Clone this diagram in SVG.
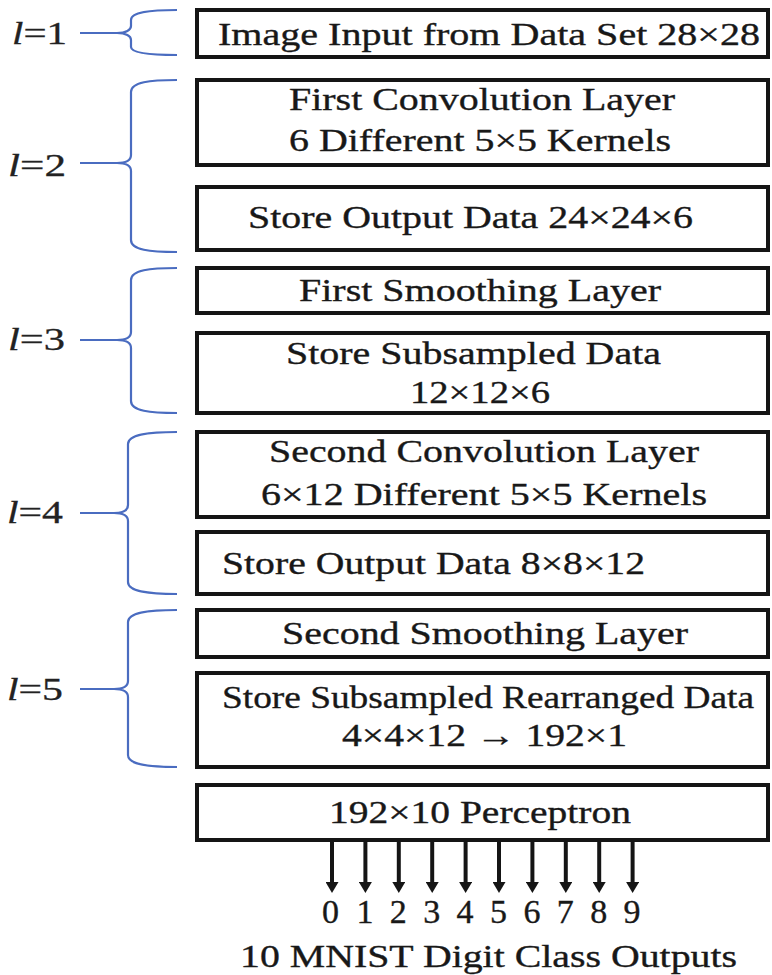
<svg xmlns="http://www.w3.org/2000/svg" width="772" height="975" viewBox="0 0 772 975">
<style>
.box{fill:#fff;stroke:#151515;stroke-width:4}
.t{font-family:"Liberation Serif","Times New Roman",serif;font-size:32px;fill:#181818;stroke:#181818;stroke-width:0.35}
.lbl{font-family:"Liberation Serif","Times New Roman",serif;font-size:31px;fill:#222;stroke:#222;stroke-width:0.3}
.brace{fill:none;stroke:#4a6cc0;stroke-width:2.2}
.arr{stroke:#151515;stroke-width:4;fill:none}
.dig{font-family:"Liberation Serif","Times New Roman",serif;font-size:33px;fill:#181818;stroke:#181818;stroke-width:0.35}
</style>
<defs>
<marker id="ah" markerWidth="13" markerHeight="13" refX="0" refY="6.5" orient="auto" markerUnits="userSpaceOnUse">
<path d="M0,0 L11,6.5 L0,13 z" fill="#151515"/>
</marker>
</defs>
<rect width="772" height="975" fill="#fff"/>

<g id="braces">
<g id="l1">
<path class="brace" d="M177,10 C150,10 131,12 131,20 L131,26 C131,30 126,33 117,33 C126,33 131,36 131,40 L131,47 C131,53 150,55 177,55 M80,33 L117,33"/>
<text class="lbl" x="12" y="44" textLength="55" lengthAdjust="spacingAndGlyphs"><tspan font-style="italic">l</tspan>=1</text>
</g>
<g id="l2">
<path class="brace" d="M177,80 C150,80 131,82 131,92 L131,155 C131,160 126,163 117,163 C126,163 131,166 131,171 L131,240 C131,250 150,252 177,252 M80,163 L117,163"/>
<text class="lbl" x="8" y="176" textLength="58" lengthAdjust="spacingAndGlyphs"><tspan font-style="italic">l</tspan>=2</text>
</g>
<g id="l3">
<path class="brace" d="M177,268 C150,268 131,270 131,280 L131,332 C131,337 126,340 117,340 C126,340 131,343 131,348 L131,401 C131,411 150,413 177,413 M80,340 L117,340"/>
<text class="lbl" x="8" y="350" textLength="57" lengthAdjust="spacingAndGlyphs"><tspan font-style="italic">l</tspan>=3</text>
</g>
<g id="l4">
<path class="brace" d="M177,432 C150,432 128,434 128,444 L128,505 C128,510 123,513 114,513 C123,513 128,516 128,521 L128,582 C128,592 150,594 177,594 M80,513 L114,513"/>
<text class="lbl" x="7" y="523" textLength="56" lengthAdjust="spacingAndGlyphs"><tspan font-style="italic">l</tspan>=4</text>
</g>
<g id="l5">
<path class="brace" d="M177,610 C150,610 128,612 128,622 L128,681 C128,686 123,689 114,689 C123,689 128,692 128,697 L128,755 C128,765 150,767 177,767 M80,689 L114,689"/>
<text class="lbl" x="7" y="700" textLength="56" lengthAdjust="spacingAndGlyphs"><tspan font-style="italic">l</tspan>=5</text>
</g>
</g>

<g id="n1"><rect class="box" x="197" y="10" width="571" height="47"/>
<text class="t" x="218" y="45" textLength="542" lengthAdjust="spacingAndGlyphs">Image Input from Data Set 28×28</text></g>
<g id="n2"><rect class="box" x="197" y="80" width="571" height="85"/>
<text class="t" x="289" y="110" textLength="386" lengthAdjust="spacingAndGlyphs">First Convolution Layer</text>
<text class="t" x="289" y="151" textLength="382" lengthAdjust="spacingAndGlyphs">6 Different 5×5 Kernels</text></g>
<g id="n3"><rect class="box" x="197" y="187" width="571" height="63"/>
<text class="t" x="248" y="228" textLength="445" lengthAdjust="spacingAndGlyphs">Store Output Data 24×24×6</text></g>
<g id="n4"><rect class="box" x="197" y="268" width="571" height="45"/>
<text class="t" x="299" y="301" textLength="362" lengthAdjust="spacingAndGlyphs">First Smoothing Layer</text></g>
<g id="n5"><rect class="box" x="197" y="333" width="571" height="80"/>
<text class="t" x="286" y="364" textLength="375" lengthAdjust="spacingAndGlyphs">Store Subsampled Data</text>
<text class="t" x="410" y="403" textLength="140" lengthAdjust="spacingAndGlyphs">12×12×6</text></g>
<g id="n6"><rect class="box" x="197" y="432" width="571" height="85"/>
<text class="t" x="269" y="462" textLength="430" lengthAdjust="spacingAndGlyphs">Second Convolution Layer</text>
<text class="t" x="261" y="505" textLength="446" lengthAdjust="spacingAndGlyphs">6×12 Different 5×5 Kernels</text></g>
<g id="n7"><rect class="box" x="197" y="532" width="571" height="62"/>
<text class="t" x="222" y="574" textLength="423" lengthAdjust="spacingAndGlyphs">Store Output Data 8×8×12</text></g>
<g id="n8"><rect class="box" x="197" y="610" width="571" height="47"/>
<text class="t" x="282" y="644" textLength="406" lengthAdjust="spacingAndGlyphs">Second Smoothing Layer</text></g>
<g id="n9"><rect class="box" x="197" y="673" width="571" height="94"/>
<text class="t" x="222" y="708" textLength="532" lengthAdjust="spacingAndGlyphs">Store Subsampled Rearranged Data</text>
<text class="t" x="342" y="746" textLength="285" lengthAdjust="spacingAndGlyphs">4×4×12 → 192×1</text></g>
<g id="n10"><rect class="box" x="197" y="785" width="571" height="55"/>
<text class="t" x="329" y="823" textLength="302" lengthAdjust="spacingAndGlyphs">192×10 Perceptron</text></g>

<g id="connectors">
<line class="arr" x1="332" y1="842" x2="332" y2="882" marker-end="url(#ah)"/>
<line class="arr" x1="365.4" y1="842" x2="365.4" y2="882" marker-end="url(#ah)"/>
<line class="arr" x1="398.8" y1="842" x2="398.8" y2="882" marker-end="url(#ah)"/>
<line class="arr" x1="432.2" y1="842" x2="432.2" y2="882" marker-end="url(#ah)"/>
<line class="arr" x1="465.6" y1="842" x2="465.6" y2="882" marker-end="url(#ah)"/>
<line class="arr" x1="499" y1="842" x2="499" y2="882" marker-end="url(#ah)"/>
<line class="arr" x1="532.4" y1="842" x2="532.4" y2="882" marker-end="url(#ah)"/>
<line class="arr" x1="565.8" y1="842" x2="565.8" y2="882" marker-end="url(#ah)"/>
<line class="arr" x1="599.2" y1="842" x2="599.2" y2="882" marker-end="url(#ah)"/>
<line class="arr" x1="632.6" y1="842" x2="632.6" y2="882" marker-end="url(#ah)"/>
</g>

<g id="outputs">
<text class="dig" x="322" y="923" textLength="17" lengthAdjust="spacingAndGlyphs">0</text>
<text class="dig" x="356.4" y="923" textLength="17" lengthAdjust="spacingAndGlyphs">1</text>
<text class="dig" x="389.8" y="923" textLength="17" lengthAdjust="spacingAndGlyphs">2</text>
<text class="dig" x="423.2" y="923" textLength="17" lengthAdjust="spacingAndGlyphs">3</text>
<text class="dig" x="456.6" y="923" textLength="17" lengthAdjust="spacingAndGlyphs">4</text>
<text class="dig" x="490" y="923" textLength="17" lengthAdjust="spacingAndGlyphs">5</text>
<text class="dig" x="523.4" y="923" textLength="17" lengthAdjust="spacingAndGlyphs">6</text>
<text class="dig" x="556.8" y="923" textLength="17" lengthAdjust="spacingAndGlyphs">7</text>
<text class="dig" x="590.2" y="923" textLength="17" lengthAdjust="spacingAndGlyphs">8</text>
<text class="dig" x="623.6" y="923" textLength="17" lengthAdjust="spacingAndGlyphs">9</text>
<text class="t" x="240" y="967" textLength="497" lengthAdjust="spacingAndGlyphs">10 MNIST Digit Class Outputs</text>
</g>
</svg>
